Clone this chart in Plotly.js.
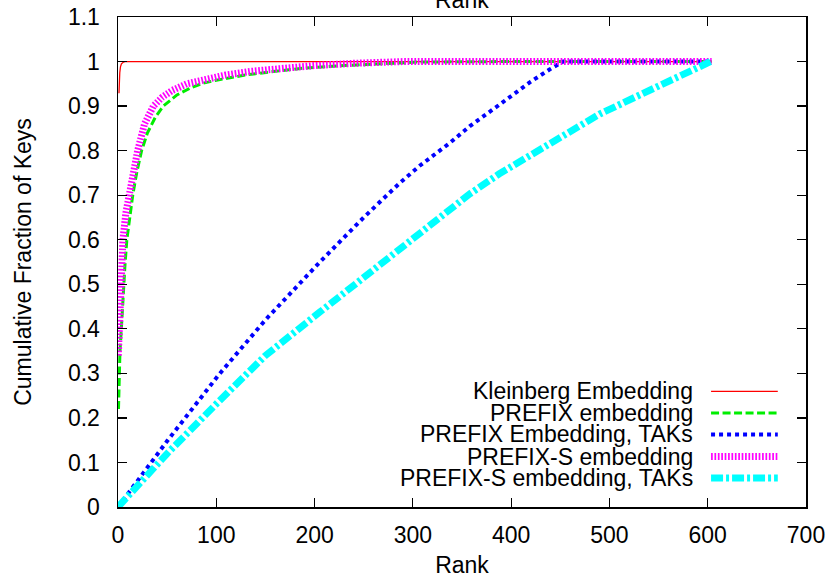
<!DOCTYPE html>
<html>
<head>
<meta charset="utf-8">
<script src="https://cdn.plot.ly/plotly-3.0.1.min.js"></script>
<style>html,body{margin:0;padding:0;background:#fff;}#chart{width:831px;height:578px;}</style>
</head>
<body>
<div id="chart"></div>
<script>
// ---- data ----
const seriesNames = ["Kleinberg Embedding", "PREFIX embedding", "PREFIX Embedding, TAKs", "PREFIX-S embedding", "PREFIX-S embedding, TAKs"];

const kleinbergRank = [1, 1.3, 1.8, 2.5, 3.5, 5, 7, 604];
const kleinbergFrac = [0.929, 0.955, 0.975, 0.988, 0.995, 0.998, 1, 1];

const prefixRank = [0.5, 1, 2, 3.4, 5, 7, 9, 12, 15, 19, 24, 30, 38, 46, 60, 75, 86, 100, 130, 160, 188, 230, 270, 307, 400, 500, 604];
const prefixFrac = [0.22, 0.29, 0.35, 0.40, 0.47, 0.54, 0.60, 0.655, 0.70, 0.75, 0.80, 0.84, 0.875, 0.90, 0.925, 0.942, 0.951, 0.958, 0.97, 0.978, 0.985, 0.991, 0.996, 0.999, 1, 1, 1];

const prefixTakRank = [0, 25, 50, 103, 150, 205, 250, 287, 307, 338, 358, 388, 420, 439, 453, 604];
const prefixTakFrac = [0, 0.075, 0.148, 0.298, 0.42, 0.549, 0.65, 0.728, 0.766, 0.818, 0.855, 0.903, 0.955, 0.982, 1, 1];

const prefixSRank = [0.3, 1, 2.4, 5, 8, 11, 15, 20, 27, 36, 45, 55, 70, 90, 110, 135, 164, 200, 240, 290, 400, 500, 604];
const prefixSFrac = [0.34, 0.37, 0.50, 0.60, 0.66, 0.70, 0.755, 0.80, 0.86, 0.90, 0.92, 0.935, 0.95, 0.962, 0.97, 0.978, 0.985, 0.991, 0.996, 1, 1, 1, 1];

const prefixSTakRank = [0, 50, 103, 150, 205, 287, 307, 358, 388, 450, 490, 550, 592, 603];
const prefixSTakFrac = [0, 0.12, 0.238, 0.34, 0.437, 0.58, 0.615, 0.703, 0.748, 0.832, 0.882, 0.945, 0.99, 1.0];

const xTickVals = [0, 100, 200, 300, 400, 500, 600, 700];
const yTickVals = [0, 0.1, 0.2, 0.3, 0.4, 0.5, 0.6, 0.7, 0.8, 0.9, 1, 1.1];
const yTickText = ["0", "0.1", "0.2", "0.3", "0.4", "0.5", "0.6", "0.7", "0.8", "0.9", "1", "1.1"];

// ---- styles ----
const styles = [
  {color: "#ff0000", width: 1.3, dash: "solid"},
  {color: "#00ee00", width: 3, dash: "8px,3.5px"},
  {color: "#0000ff", width: 4, dash: "4px,4px"},
  {color: "#ff00ff", width: 7, dash: "1.7px,1.7px"},
  {color: "#00ffff", width: 7, dash: "12px,3px,3px,3px"}
];

const xs = [kleinbergRank, prefixRank, prefixTakRank, prefixSRank, prefixSTakRank];
const ys = [kleinbergFrac, prefixFrac, prefixTakFrac, prefixSFrac, prefixSTakFrac];

const traces = xs.map((x, i) => ({
  type: "scatter", mode: "lines", name: seriesNames[i],
  x: x, y: ys[i], showlegend: false,
  line: {color: styles[i].color, width: styles[i].width, dash: styles[i].dash}
}));

const font = "Liberation Sans, Arial, Helvetica, sans-serif";
const fs = 23;

// manual legend (text right-aligned, sample line to its right)
const legTextX = 0.838, legLineX0 = 0.862, legLineX1 = 0.959;
const legY = [0.236, 0.192, 0.148, 0.103, 0.059];
const annotations = [{
  text: "Rank", xref: "paper", yref: "paper", x: 0.5, y: 1,
  xanchor: "center", yanchor: "bottom", yshift: 2, showarrow: false,
  font: {family: font, size: fs, color: "#000"}
}];
const shapes = [];
seriesNames.forEach((n, i) => {
  annotations.push({text: n, xref: "paper", yref: "paper", x: legTextX, y: legY[i],
    xanchor: "right", yanchor: "middle", showarrow: false,
    font: {family: font, size: fs, color: "#000"}});
  shapes.push({type: "line", xref: "paper", yref: "paper",
    x0: legLineX0, x1: legLineX1, y0: legY[i], y1: legY[i],
    line: {color: styles[i].color, width: styles[i].width, dash: styles[i].dash}});
});

const axisCommon = {
  showgrid: false, zeroline: false, showline: true, linecolor: "#000", linewidth: 1.5,
  mirror: "ticks", ticks: "inside", ticklen: 9, tickwidth: 1.2, tickcolor: "#000",
  tickfont: {family: font, size: fs, color: "#000"}
};

const layout = {
  width: 831, height: 578,
  margin: {l: 118, r: 25, t: 17, b: 71},
  paper_bgcolor: "#fff", plot_bgcolor: "#fff",
  font: {family: font, size: fs, color: "#000"},
  xaxis: Object.assign({}, axisCommon, {
    range: [0, 700], tickvals: xTickVals, ticklabelstandoff: 7,
    title: {text: "Rank", font: {family: font, size: fs, color: "#000"}, standoff: 12}
  }),
  yaxis: Object.assign({}, axisCommon, {
    range: [0, 1.1], tickvals: yTickVals, ticktext: yTickText, ticklabelstandoff: 12,
    title: {text: "Cumulative Fraction of Keys", font: {family: font, size: fs, color: "#000"}, standoff: 30}
  }),
  annotations: annotations,
  shapes: shapes,
  showlegend: false
};

Plotly.newPlot("chart", traces, layout, {staticPlot: true, displayModeBar: false});
</script>
</body>
</html>
